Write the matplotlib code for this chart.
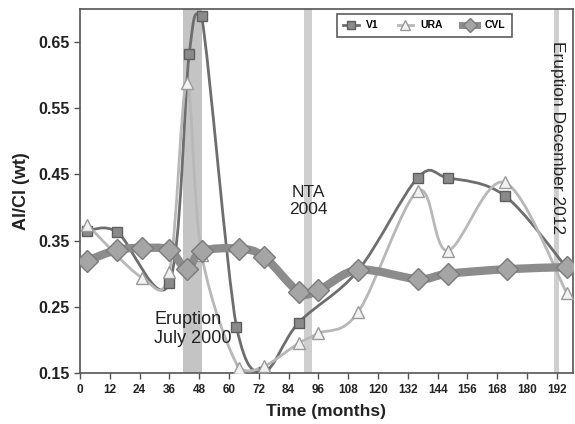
import numpy as np
import matplotlib.pyplot as plt
from matplotlib.path import Path
from matplotlib.patches import PathPatch
from matplotlib.lines import Line2D

plt.rcParams['font.family'] = ['Liberation Sans', 'DejaVu Sans']

# data
v1_x = [3, 15, 36, 44, 49, 63, 74, 88, 112, 136, 148, 171, 196]
v1_y = [0.365, 0.363, 0.286, 0.632, 0.689, 0.22, 0.152, 0.226, 0.305, 0.445, 0.445, 0.418, 0.309]

ura_x = [3, 25, 36, 43, 49, 64, 74, 88, 96, 112, 136, 148, 171, 196]
ura_y = [0.374, 0.294, 0.303, 0.588, 0.329, 0.157, 0.16, 0.195, 0.21, 0.242, 0.425, 0.335, 0.438, 0.271]

cvl_x = [3, 15, 25, 36, 43, 49, 64, 74, 88, 96, 112, 136, 148, 172, 196]
cvl_y = [0.32, 0.336, 0.339, 0.336, 0.307, 0.334, 0.338, 0.326, 0.273, 0.275, 0.306, 0.292, 0.30, 0.307, 0.31]

x_ticks = list(range(0, 193, 12))
y_ticks = [0.15, 0.25, 0.35, 0.45, 0.55, 0.65]

YMIN, YMAX = 0.15, 0.70


def smooth_path(xs, ys):
    # excel-style smoothed line as cubic bezier segments
    pts = np.column_stack([xs, ys]).astype(float)
    n = len(pts)
    verts = [pts[0]]
    codes = [Path.MOVETO]
    for i in range(n - 1):
        p0 = pts[i - 1] if i > 0 else pts[i]
        p1 = pts[i]
        p2 = pts[i + 1]
        p3 = pts[i + 2] if i + 2 < n else pts[i + 1]
        c1 = p1 + (p2 - p0) / 6.0
        c2 = p2 - (p3 - p1) / 6.0
        for c in (c1, c2):
            c[0] = min(max(c[0], p1[0]), p2[0])
            c[1] = min(max(c[1], YMIN), YMAX - 0.003)
        verts += [c1, c2, p2]
        codes += [Path.CURVE4] * 3
    return Path(verts, codes)


fig = plt.figure(figsize=(5.75, 4.24), dpi=100)
ax = fig.add_axes([0.139, 0.12, 0.8575, 0.859])

# event bands
ax.axvspan(41.5, 49, color='#c4c4c4', lw=0, zorder=0)
ax.axvspan(90.3, 93.3, color='#cfcfcf', lw=0, zorder=0)
ax.axvspan(190.8, 193, color='#cfcfcf', lw=0, zorder=0)

# lines
ax.add_patch(PathPatch(smooth_path(v1_x, v1_y), fill=False, ec='#6e6e6e', lw=2, zorder=2))
ax.add_patch(PathPatch(smooth_path(ura_x, ura_y), fill=False, ec='#b8b8b8', lw=2, zorder=3))
ax.add_patch(PathPatch(smooth_path(cvl_x, cvl_y), fill=False, ec='#8c8c8c', lw=6, zorder=5, capstyle='round'))

ax.plot(v1_x, v1_y, ls='none', marker='s', ms=6.5, mfc='#8a8a8a', mec='#5e5e5e', mew=1, zorder=4)
ax.plot(ura_x, ura_y, ls='none', marker='^', ms=8, mfc='#f2f2f2', mec='#9a9a9a', mew=1, zorder=4)
ax.plot(cvl_x, cvl_y, ls='none', marker='D', ms=11, mfc='#a5a5a5', mec='#7a7a7a', mew=1, zorder=6)

ax.set_xlim(0, 198.5)
ax.set_ylim(YMIN, YMAX)
ax.set_xticks(x_ticks)
ax.set_yticks(y_ticks)
ax.set_yticklabels(['%.2f' % v for v in y_ticks], fontsize=11.5, fontweight='bold', color='#222222')
ax.set_xticklabels([str(v) for v in x_ticks], fontsize=8.5, fontweight='bold', color='#222222')
ax.tick_params(axis='both', direction='out', length=4, color='#555555', width=1)
for s in ax.spines.values():
    s.set_color('#555555')
    s.set_linewidth(1.2)

ax.set_xlabel('Time (months)', fontsize=12.5, fontweight='bold', color='#222222', labelpad=6)
ax.set_ylabel('Al/Cl (wt)', fontsize=13, fontweight='bold', color='#222222', labelpad=6)

# annotations
ax.text(30, 0.217, 'Eruption\nJuly 2000', ha='left', va='center', fontsize=13, color='#222222', linespacing=1.15)
ax.text(92, 0.41, 'NTA\n2004', ha='center', va='center', fontsize=12.5, color='#222222', linespacing=1.15)
ax.text(192.3, 0.506, 'Eruption December 2012', ha='center', va='center', rotation=270, fontsize=12.5,
        color='#222222')

handles = [
    Line2D([], [], color='#6e6e6e', lw=2, marker='s', ms=6, mfc='#8a8a8a', mec='#5e5e5e'),
    Line2D([], [], color='#b8b8b8', lw=2, marker='^', ms=7, mfc='#f2f2f2', mec='#9a9a9a'),
    Line2D([], [], color='#8c8c8c', lw=5, marker='D', ms=7, mfc='#a5a5a5', mec='#7a7a7a'),
]
leg = ax.legend(handles, ['V1', 'URA', 'CVL'], ncol=3, loc='upper left', bbox_to_anchor=(0.511, 1.0),
                prop={'weight': 'bold', 'size': 7.5}, handlelength=1.5, handletextpad=0.7,
                columnspacing=1.8, fancybox=False, borderpad=0.6)
leg.get_frame().set_edgecolor('#333333')
leg.get_frame().set_linewidth(1.2)

fig.savefig('out.png', dpi=100)
